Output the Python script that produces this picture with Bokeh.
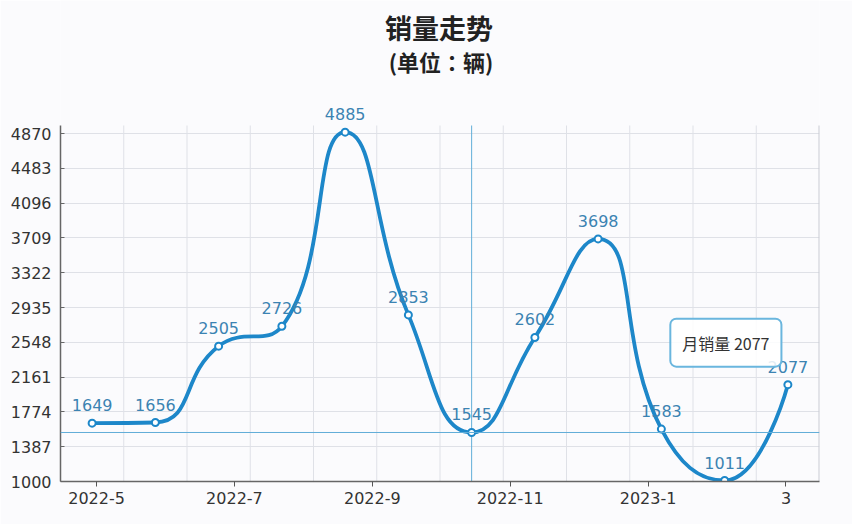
import numpy as np
from bokeh.plotting import figure
from bokeh.models import FixedTicker, Range1d, Span, Label, LabelSet, ColumnDataSource
from bokeh.core.properties import value
from bokeh.embed import file_html
from bokeh.resources import INLINE

# ---- data ----
values = [1649, 1656, 2505, 2726, 4885, 2853, 1545, 2602, 3698, 1583, 1011, 2077]
y_ticks = [1000, 1387, 1774, 2161, 2548, 2935, 3322, 3709, 4096, 4483, 4870]
x_tick_labels = ["2022-5", "2022-7", "2022-9", "2022-11", "2023-1", "3"]
x_tick_pos = [0.57, 2.75, 4.93, 7.11, 9.29, 11.47]
title_text = "销量走势"
subtitle_text = "(单位：辆)"
crosshair_index = 6
tooltip_index = 11
tooltip_name = "月销量"

n = len(values)
xs = [i + 0.5 for i in range(n)]

BLUE = "#1d87c9"
LABEL_BLUE = "#3b83b2"
BG = "#fbfbfd"
GRID = "#dfe1e7"

W, H = 852, 524
ML, MR, MB = 60, 33, 43
PLOT_TOP = 125                     # page y of the top of the gridded plot area
FW, FH = W - ML - MR, H - MB       # frame reaches the top of the canvas
Y0, Y_TOP = 1000, 4959
Y1 = Y0 + (Y_TOP - Y0) * FH / (FH - PLOT_TOP)
X0, X1 = 0, n

p = figure(width=W, height=H, output_backend="svg", toolbar_location=None,
           x_range=Range1d(X0, X1), y_range=Range1d(Y0, Y1),
           min_border_left=ML, min_border_right=MR, min_border_top=0, min_border_bottom=MB,
           background_fill_color=BG, border_fill_color=BG, outline_line_color=None)

# titles (screen units from the frame's bottom-left corner)
p.add_layout(Label(x=FW / 2 - 1, y=FH - 27, x_units="screen", y_units="screen",
                   text=title_text, text_align="center", text_baseline="middle",
                   text_font="Noto Sans CJK SC", text_font_size="27px",
                   text_font_style="bold", text_color="#222222"))
p.add_layout(Label(x=FW / 2 + 1, y=FH - 60, x_units="screen", y_units="screen",
                   text=subtitle_text, text_align="center", text_baseline="middle",
                   text_font="Noto Sans CJK TC", text_font_size="22px",
                   text_font_style="bold", text_color="#222222"))

# ---- axes ----
p.yaxis.ticker = FixedTicker(ticks=y_ticks)
p.yaxis.bounds = (Y0, Y_TOP)
p.yaxis.major_label_text_font = "DejaVu Sans"
p.yaxis.major_label_text_font_size = "16px"
p.yaxis.major_label_text_color = "#333333"
p.yaxis.major_tick_in = 4
p.yaxis.major_tick_out = 0
p.yaxis.minor_tick_line_color = None
p.yaxis.axis_line_color = "#666666"
p.yaxis.axis_line_width = 1.5
p.yaxis.major_tick_line_color = "#666666"
p.yaxis.major_label_standoff = 9

p.xaxis.ticker = FixedTicker(ticks=x_tick_pos)
p.xaxis.major_label_overrides = {t: l for t, l in zip(x_tick_pos, x_tick_labels)}
p.xaxis.major_label_text_font = "DejaVu Sans"
p.xaxis.major_label_text_font_size = "16px"
p.xaxis.major_label_text_color = "#333333"
p.xaxis.major_tick_in = 0
p.xaxis.major_tick_out = 5
p.xaxis.minor_tick_line_color = None
p.xaxis.axis_line_color = "#666666"
p.xaxis.axis_line_width = 1.5
p.xaxis.major_tick_line_color = "#555555"
p.xaxis.major_label_standoff = 5

p.xgrid.grid_line_color = None
p.ygrid.ticker = FixedTicker(ticks=y_ticks)
p.ygrid.grid_line_color = GRID

# vertical grid lines limited to the plot area
vg = list(range(1, n))
p.segment(x0=vg, y0=[Y0] * len(vg), x1=vg, y1=[Y_TOP] * len(vg), line_color=GRID, line_width=1)
p.segment(x0=[X1], y0=[Y0], x1=[X1], y1=[Y_TOP], line_color="#c9cbd3", line_width=2)

# ---- smooth curve (echarts-like smoothing in pixel space) ----
kx = FW / (X1 - X0)
ky = FH / (Y1 - Y0)
px = [x * kx for x in xs]
py = [v * ky for v in values]
smooth = 0.5
segs = []
cpx0, cpy0 = px[0], py[0]
for i in range(1, n):
    x, y = px[i], py[i]
    prevX, prevY = px[i - 1], py[i - 1]
    if i == n - 1:
        cpx1, cpy1 = x, y
        ncx, ncy = x, y
    else:
        nextX, nextY = px[i + 1], py[i + 1]
        vx, vy = nextX - prevX, nextY - prevY
        lp = np.hypot(x - prevX, y - prevY)
        ln = np.hypot(nextX - x, nextY - y)
        r = ln / (ln + lp)
        ncx = x + vx * smooth * r
        ncy = y + vy * smooth * r
        ncx = min(ncx, max(nextX, x)); ncy = min(ncy, max(nextY, y))
        ncx = max(ncx, min(nextX, x)); ncy = max(ncy, min(nextY, y))
        vx, vy = ncx - x, ncy - y
        cpx1 = x - vx * lp / ln
        cpy1 = y - vy * lp / ln
        cpx1 = min(cpx1, max(prevX, x)); cpy1 = min(cpy1, max(prevY, y))
        cpx1 = max(cpx1, min(prevX, x)); cpy1 = max(cpy1, min(prevY, y))
        vx, vy = x - cpx1, y - cpy1
        ncx = x + vx * ln / lp
        ncy = y + vy * ln / lp
    segs.append((prevX, prevY, cpx0, cpy0, cpx1, cpy1, x, y))
    cpx0, cpy0 = ncx, ncy

seg = np.array(segs)
bez = ColumnDataSource(dict(
    x0=seg[:, 0] / kx, y0=seg[:, 1] / ky,
    cx0=seg[:, 2] / kx, cy0=seg[:, 3] / ky,
    cx1=seg[:, 4] / kx, cy1=seg[:, 5] / ky,
    x1=seg[:, 6] / kx, y1=seg[:, 7] / ky))

# crosshair
p.segment(x0=[xs[crosshair_index]], y0=[Y0], x1=[xs[crosshair_index]], y1=[Y_TOP],
          line_color="#62aed8", line_width=1)
p.add_layout(Span(location=values[crosshair_index], dimension="width", line_color="#62aed8", line_width=1))

p.bezier(x0="x0", y0="y0", x1="x1", y1="y1", cx0="cx0", cy0="cy0", cx1="cx1", cy1="cy1",
         source=bez, line_color=BLUE, line_width=3.8)

src = ColumnDataSource(dict(x=xs, y=values, t=[str(v) for v in values]))
p.scatter("x", "y", source=src, size=7, fill_color="white", line_color=BLUE, line_width=2)
p.add_layout(LabelSet(x="x", y="y", text="t", source=src, y_offset=12,
                      text_align="center", text_baseline="bottom",
                      text_font=value("DejaVu Sans"), text_font_size="16px", text_color=LABEL_BLUE))

# tooltip
p.add_layout(Label(x=xs[tooltip_index], y=values[tooltip_index], x_offset=-62, y_offset=42,
                   text=f"{tooltip_name} {values[tooltip_index]}",
                   text_align="center", text_baseline="middle",
                   text_font="Noto Sans CJK SC", text_font_size="16px", text_color="#333333",
                   background_fill_color="white", background_fill_alpha=0.85,
                   border_line_color="#6ab6de", border_line_width=2,
                   padding=12, border_radius=6))

open("out.html", "w").write(file_html(p, INLINE))
